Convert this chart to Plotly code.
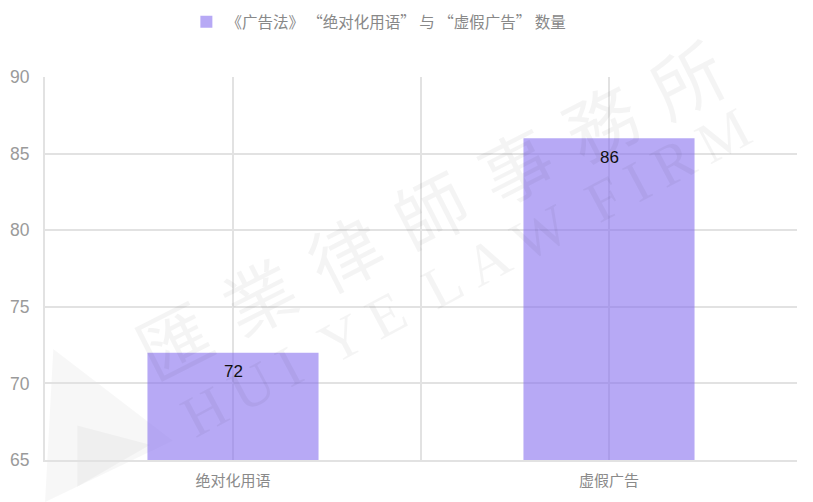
import plotly.graph_objects as go

categories = ["绝对化用语", "虚假广告"]
values = [72, 86]
series_name = "《广告法》 “绝对化用语” 与 “虚假广告” 数量"
y_ticks = [65, 70, 75, 80, 85, 90]

x_pos = list(range(len(categories)))

fig = go.Figure()
fig.add_trace(go.Bar(
    x=x_pos, y=values, name=series_name,
    marker=dict(color="rgba(135,112,238,0.6)", line=dict(width=0)),
    width=0.455,
    showlegend=True,
))

for xi, v in zip(x_pos, values):
    fig.add_annotation(x=xi, y=v, text=str(v), showarrow=False, yshift=-19,
                       font=dict(color="#111", size=17, family="Liberation Sans, Arial"))

grid_vals = [-0.5, 0, 0.5, 1, 1.5]
grid_text = ["", categories[0], "", categories[1], ""]

fig.update_layout(
    width=805, height=494,
    margin=dict(l=37, r=16, t=69, b=42, autoexpand=False),
    paper_bgcolor="white", plot_bgcolor="white",
    font=dict(family="Noto Sans CJK SC, Liberation Sans", color="#8a8a8a"),
    showlegend=True,
    legend=dict(orientation="h", x=0.188, xanchor="left", y=1.143, yanchor="middle",
                font=dict(size=15.5, color="#888"), itemwidth=30),
    xaxis=dict(range=[-0.5, 1.5], tickvals=grid_vals, ticktext=grid_text, automargin=False,
               showgrid=True, gridcolor="#e2e2e2", gridwidth=2, zeroline=False,
               showline=True, linecolor="#e2e2e2", linewidth=2, ticks="",
               ticklabelstandoff=6,
               tickfont=dict(size=15, color="#8a8a8a")),
    yaxis=dict(range=[65, 90], tickvals=y_ticks, showgrid=True, gridcolor="#e2e2e2",
               gridwidth=2, zeroline=False, showline=True, linecolor="#e2e2e2", linewidth=2,
               ticks="", automargin=False, ticklabelstandoff=10,
               tickfont=dict(size=17.5, color="#9a9a9a", family="Liberation Sans, Arial")),
)

# watermark
sp = "\u2004"
fig.add_annotation(text=sp.join("匯業律師事務所"), xref="paper", yref="paper", x=0.51, y=0.66,
                   xanchor="center", yanchor="middle",
                   showarrow=False, textangle=-27,
                   font=dict(size=72, color="rgba(0,0,0,0.045)", family="Noto Sans CJK TC"))
fig.add_annotation(text="\u2002".join(["\u2009".join(w) for w in ["HUI", "YE", "LAW", "FIRM"]]),
                   xref="paper", yref="paper", x=0.56, y=0.49,
                   xanchor="center", yanchor="middle",
                   showarrow=False, textangle=-28,
                   font=dict(size=58, color="rgba(0,0,0,0.045)", family="Liberation Serif"))
# watermark logo (faint triangles)
fig.add_shape(type="path", xref="paper", yref="paper", layer="below",
              path="M 0.011 0.29 L 0.0 -0.11 L 0.17 0.05 Z",
              fillcolor="rgba(0,0,0,0.03)", line=dict(width=0))
fig.add_shape(type="path", xref="paper", yref="paper", layer="below",
              path="M 0.043 0.09 L 0.043 -0.07 L 0.14 0.04 Z",
              fillcolor="rgba(0,0,0,0.03)", line=dict(width=0))

fig.write_html("out.html")
